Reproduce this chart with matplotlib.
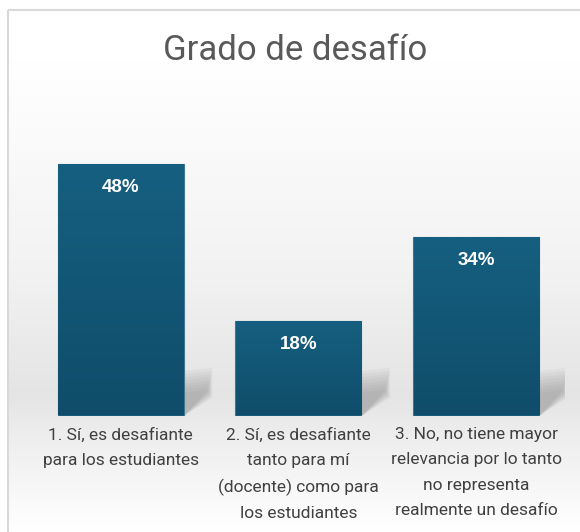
import numpy as np
import matplotlib
matplotlib.use("Agg")
from matplotlib import pyplot as plt
from matplotlib.colors import LinearSegmentedColormap
from matplotlib.patches import Rectangle, Polygon

plt.rcParams['font.family'] = ['Roboto', 'DejaVu Sans']

title = 'Grado de desafío'
categories = ['1. Sí, es desafiante\npara los estudiantes',
              '2. Sí, es desafiante\ntanto para mí\n(docente) como para\nlos estudiantes',
              '3. No, no tiene mayor\nrelevancia por lo tanto\nno representa\nrealmente un desafío']
values = [48, 18, 34]
labels = ['48%', '18%', '34%']

fig = plt.figure(figsize=(5.8, 5.32), dpi=100)

# background gradient panel
bg = fig.add_axes([0, 0, 1, 1], zorder=0)
bg.set_xlim(0, 580)
bg.set_ylim(532, 0)
bg.axis('off')
rows = np.linspace(0, 1, 200)
shade = np.interp(rows, [0, 0.1, 0.5, 0.74, 0.8, 1.0], [1.0, 1.0, 0.95, 0.895, 0.925, 1.0])
img = np.repeat(shade[:, None], 2, axis=1)
bg.imshow(np.dstack([img, img, img]), extent=(8, 580, 532, 10), aspect='auto', zorder=0)
bg.add_patch(Rectangle((8, 10), 600, 600, fill=False, edgecolor='#d9d9d9', lw=1.5, zorder=1))

ax = fig.add_axes([0.055, 0.218, 0.919, 0.543], zorder=1)
ax.patch.set_alpha(0)
x = np.arange(len(values))
w = 0.71

# soft shadows to the right of each bar
for xi in x:
    xr = xi + w / 2
    for k in range(8):
        d = k * 0.004
        sh = Polygon([(xr, 0), (xr, 8.6 - k * 0.6), (xr + 0.16 - d, 9.2 - k * 0.6),
                      (xr + 0.16 - d, 3.5 + k * 0.2), (xr, 0)],
                     closed=True, facecolor='#6e6e6e', edgecolor='none', alpha=0.06, zorder=1)
        ax.add_patch(sh)

bars = ax.bar(x, values, width=w, color='#145a7a', edgecolor='#3f7896', linewidth=0.8, zorder=2)

cmap = LinearSegmentedColormap.from_list('b', ['#0f4d6a', '#165f80'])
grad = np.linspace(0, 1, 100).reshape(-1, 1)
for b in bars:
    ax.imshow(grad, cmap=cmap, origin='lower', aspect='auto', zorder=3,
              extent=(b.get_x() + 0.003, b.get_x() + b.get_width() - 0.003, 0.1, b.get_height() - 0.15))

for xi, v, lab in zip(x, values, labels):
    ax.text(xi, v - 4.4, lab, ha='center', va='center', color='white',
            fontsize=13.5, fontweight='bold', family=['Liberation Sans', 'DejaVu Sans'], zorder=4)

ax.set_xlim(-0.5, 2.5)
ax.set_ylim(0, 55)
ax.set_xticks(x)
ax.set_xticklabels(categories, fontsize=12.5, color='#404040', linespacing=1.85)
ax.tick_params(axis='x', length=0, pad=8)
ax.set_yticks([])
for s in ax.spines.values():
    s.set_visible(False)

fig.text(0.508, 0.905, title, ha='center', va='center', fontsize=25, color='#595959')

fig.savefig('out.png', dpi=100)
